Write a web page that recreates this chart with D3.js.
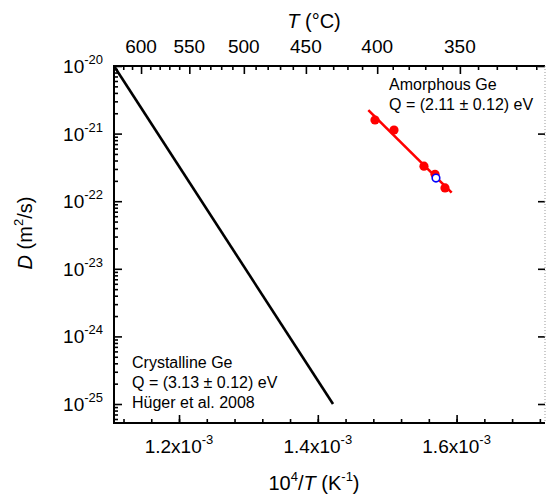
<!DOCTYPE html>
<html>
<head>
<meta charset="utf-8">
<script src="https://cdn.jsdelivr.net/npm/d3@7"></script>
<style>
  html, body { margin: 0; padding: 0; background: #fff; }
  svg { display: block; font-family: "Liberation Sans", Arial, sans-serif; }
</style>
</head>
<body>
<svg id="chart" width="546" height="496"></svg>
<script>
// Arrhenius plot of Ge diffusivity: D versus 1/T (bottom) and T in °C (top)

// Amorphous Ge measurements (1/T in K^-1, D in m^2/s)
const amorphInvT = [1.4824e-3, 1.5098e-3, 1.5530e-3, 1.5689e-3, 1.5833e-3];
const amorphD    = [1.59e-21, 1.13e-21, 3.3e-22, 2.5e-22, 1.57e-22];
// open marker
const openInvT = [1.5703e-3];
const openD    = [2.2e-22];
// Arrhenius fit through amorphous data, Q = 2.11 eV
const amorphFitInvT = [1.4728e-3, 1.5929e-3];
const amorphFitD    = [2.23e-21, 1.34e-22];
// Crystalline Ge (Hüger et al. 2008), Q = 3.13 eV
const crystInvT = [1.1063e-3, 1.4219e-3];
const crystD    = [1e-20, 1e-25];

// axis ticks
const bottomMajor = [1.2e-3, 1.4e-3, 1.6e-3];
const bottomLabels = ["1.2x10", "1.4x10", "1.6x10"];
const bottomExp = "-3";
const topMajorC = [600, 550, 500, 450, 400, 350];
const leftMajorExp = [-20, -21, -22, -23, -24, -25];

const svg = d3.select("#chart");
const L = 114, R = 545, T = 66, B = 423;
const TICK_FS = 19, EXP_FS = 13, TITLE_FS = 20;

const x = d3.scaleLinear().domain([1.1063e-3, 1.7274e-3]).range([L, R]);
const y = d3.scaleLog().domain([Math.pow(10, -25.281), 1e-20]).range([B, T]);
const inv = c => 1 / (c + 273.15);

const inX = v => x(v) >= L - 0.5 && x(v) <= R + 0.5;
const inY = v => y(v) >= T - 0.5 && y(v) <= B + 0.5;

// ---- tick sets
const bottomMinor = d3.range(28, 44).map(i => i * 0.04e-3).filter(inX);
const topMinor = d3.range(310, 640, 10).filter(c => topMajorC.indexOf(c) < 0).map(inv).filter(inX);
const leftMajor = leftMajorExp.map(e => Math.pow(10, e));
const leftMinor = [];
for (let e = -26; e < -20; e++) for (let m = 2; m <= 9; m++) {
  const v = m * Math.pow(10, e);
  if (inY(v)) leftMinor.push(v);
}

const axisStyle = g => {
  g.select(".domain").remove();
  g.selectAll(".tick line").attr("stroke", "#000").attr("stroke-width", 1.6);
  g.selectAll(".tick text").remove();
};

// bottom axis (ticks point inward)
svg.append("g").attr("transform", `translate(0,${B})`)
  .call(d3.axisBottom(x).tickValues(bottomMajor).tickSize(-8).tickFormat("")).call(axisStyle);
svg.append("g").attr("transform", `translate(0,${B})`)
  .call(d3.axisBottom(x).tickValues(bottomMinor).tickSize(-4).tickFormat("")).call(axisStyle);
// top axis in °C
svg.append("g").attr("transform", `translate(0,${T})`)
  .call(d3.axisTop(x).tickValues(topMajorC.map(inv)).tickSize(-8).tickFormat("")).call(axisStyle);
svg.append("g").attr("transform", `translate(0,${T})`)
  .call(d3.axisTop(x).tickValues(topMinor).tickSize(-4).tickFormat("")).call(axisStyle);
// left axis
svg.append("g").attr("transform", `translate(${L},0)`)
  .call(d3.axisLeft(y).tickValues(leftMajor).tickSize(-8).tickFormat("")).call(axisStyle);
svg.append("g").attr("transform", `translate(${L},0)`)
  .call(d3.axisLeft(y).tickValues(leftMinor).tickSize(-4).tickFormat("")).call(axisStyle);
// right axis (major ticks only)
svg.append("g").attr("transform", `translate(${R},0)`)
  .call(d3.axisRight(y).tickValues(leftMajor).tickSize(-7).tickFormat("")).call(axisStyle);

// frame lines
svg.append("line").attr("x1", L).attr("x2", R).attr("y1", B).attr("y2", B)
  .attr("stroke", "#000").attr("stroke-width", 2);
svg.append("line").attr("x1", L).attr("x2", R).attr("y1", T).attr("y2", T)
  .attr("stroke", "#000").attr("stroke-width", 2);
svg.append("line").attr("x1", L).attr("x2", L).attr("y1", T - 1).attr("y2", B + 1)
  .attr("stroke", "#000").attr("stroke-width", 2);
svg.append("line").attr("x1", R).attr("x2", R).attr("y1", T).attr("y2", B)
  .attr("stroke", "#999").attr("stroke-width", 1).attr("stroke-dasharray", "1,2");

// ---- tick labels
const supText = (sel, base, exp, rise) => {
  sel.append("tspan").text(base);
  sel.append("tspan").attr("dy", -rise).attr("font-size", EXP_FS).text(exp);
};

bottomMajor.forEach((v, i) => {
  const t = svg.append("text").attr("x", x(v)).attr("y", 453)
    .attr("text-anchor", "middle").attr("font-size", TICK_FS).attr("fill", "#000");
  supText(t, bottomLabels[i], bottomExp, 9);
});

topMajorC.forEach(c => {
  svg.append("text").attr("x", x(inv(c))).attr("y", 53)
    .attr("text-anchor", "middle").attr("font-size", TICK_FS).attr("fill", "#000").text(c);
});

leftMajorExp.forEach(e => {
  const t = svg.append("text").attr("x", 103).attr("y", y(Math.pow(10, e)) + 7)
    .attr("text-anchor", "end").attr("font-size", TICK_FS).attr("fill", "#000");
  supText(t, "10", String(e), 9);
});

// ---- axis titles
const topTitle = svg.append("text").attr("x", 314).attr("y", 28)
  .attr("text-anchor", "middle").attr("font-size", TITLE_FS);
topTitle.append("tspan").attr("font-style", "italic").text("T");
topTitle.append("tspan").text(" (°C)");

const xTitle = svg.append("text").attr("x", 314).attr("y", 490)
  .attr("text-anchor", "middle").attr("font-size", TITLE_FS);
xTitle.append("tspan").text("10");
xTitle.append("tspan").attr("dy", -9).attr("font-size", EXP_FS).text("4");
xTitle.append("tspan").attr("dy", 9).text("/");
xTitle.append("tspan").attr("font-style", "italic").text("T");
xTitle.append("tspan").text(" (K");
xTitle.append("tspan").attr("dy", -9).attr("font-size", EXP_FS).text("-1");
xTitle.append("tspan").attr("dy", 9).text(")");

const yTitle = svg.append("text").attr("transform", "translate(32,233) rotate(-90)")
  .attr("text-anchor", "middle").attr("font-size", TITLE_FS);
yTitle.append("tspan").attr("font-style", "italic").text("D");
yTitle.append("tspan").text(" (m");
yTitle.append("tspan").attr("dy", -9).attr("font-size", EXP_FS).text("2");
yTitle.append("tspan").attr("dy", 9).text("/s)");

// ---- data
const line = d3.line().x(d => x(d[0])).y(d => y(d[1]));

svg.append("path").datum(d3.zip(crystInvT, crystD)).attr("d", line)
  .attr("fill", "none").attr("stroke", "#000").attr("stroke-width", 2.6);

svg.append("path").datum(d3.zip(amorphFitInvT, amorphFitD)).attr("d", line)
  .attr("fill", "none").attr("stroke", "#ff0000").attr("stroke-width", 2.6);

svg.selectAll("circle.amorph").data(d3.zip(amorphInvT, amorphD)).join("circle")
  .attr("class", "amorph").attr("cx", d => x(d[0])).attr("cy", d => y(d[1]))
  .attr("r", 4.6).attr("fill", "#ff0000");

svg.selectAll("circle.open").data(d3.zip(openInvT, openD)).join("circle")
  .attr("class", "open").attr("cx", d => x(d[0])).attr("cy", d => y(d[1]))
  .attr("r", 3.8).attr("fill", "#fff").attr("stroke", "#0000ff").attr("stroke-width", 1.6);

// ---- annotations
const note = (x0, y0, lines) => {
  lines.forEach((s, i) => {
    svg.append("text").attr("x", x0).attr("y", y0 + i * 20)
      .attr("font-size", 16).attr("fill", "#000").text(s);
  });
};
note(389, 90, ["Amorphous Ge", "Q = (2.11 ± 0.12) eV"]);
note(132, 368, ["Crystalline Ge", "Q = (3.13 ± 0.12) eV", "Hüger et al. 2008"]);
</script>
</body>
</html>
